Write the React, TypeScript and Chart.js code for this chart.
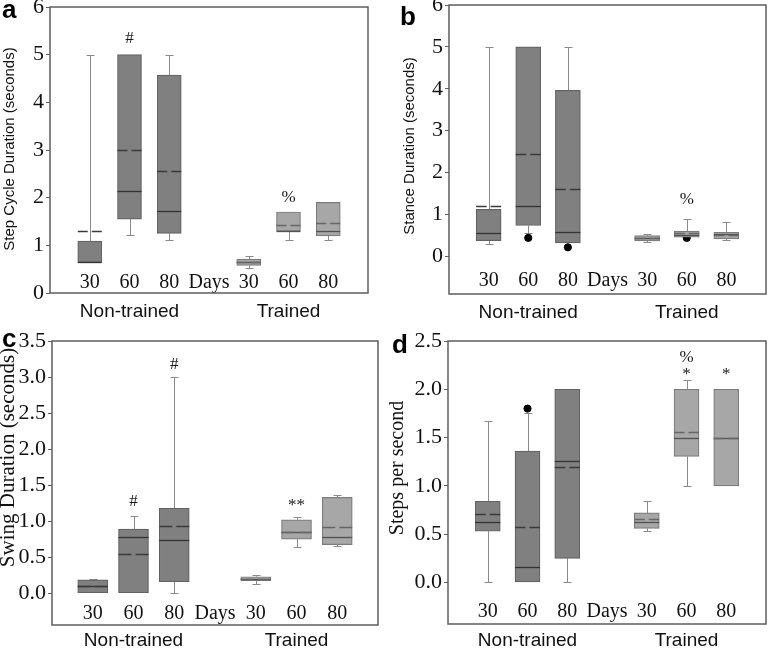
import React, { useEffect, useRef } from 'react';
import { Chart, registerables } from 'chart.js';

Chart.register(...registerables);

// ---------- shared categories ----------
const xLabels = ['30', '60', '80', 'Days', '30', '60', '80'];
const xSlots = [1, 2, 3, 4, 5, 6, 7];
const groupLabels = ['Non-trained', 'Trained'];
const groupSlots = [2, 6];
const boxSlots = [1, 2, 3, 5, 6, 7];
const trained = [false, false, false, true, true, true];

// ---------- panel a: Step Cycle Duration ----------
const aQ1 = [0.64, 1.55, 1.25, 0.58, 1.3, 1.2];
const aQ3 = [1.09, 5.0, 4.57, 0.71, 1.7, 1.9];
const aMedian = [0.66, 2.15, 1.71, 0.65, 1.31, 1.3];
const aMean = [1.3, 3.0, 2.55, 0.64, 1.42, 1.46];
const aLow = [0.64, 1.21, 1.11, 0.52, 1.11, 1.11];
const aHigh = [5.0, 5.0, 5.0, 0.78, 1.7, 1.9];
const aOutX: number[] = [];
const aOutY: number[] = [];
const aNoteText = ['#', '%'];
const aNoteX = [2, 6];
const aNoteY = [5.33, 2.01];
const aTicks = [0, 1, 2, 3, 4, 5, 6];

// ---------- panel b: Stance Duration ----------
const bQ1 = [0.375, 0.735, 0.32, 0.37, 0.455, 0.415];
const bQ3 = [1.12, 5.0, 3.96, 0.495, 0.6, 0.575];
const bMedian = [0.56, 1.2, 0.58, 0.43, 0.5, 0.535];
const bMean = [1.21, 2.45, 1.61, 0.44, 0.56, 0.52];
const bLow = [0.3, 0.56, 0.32, 0.335, 0.455, 0.39];
const bHigh = [5.0, 5.0, 5.0, 0.53, 0.88, 0.82];
const bOutX = [2, 3, 6];
const bOutY = [0.44, 0.215, 0.44];
const bNoteText = ['%'];
const bNoteX = [6];
const bNoteY = [1.36];
const bTicks = [0, 1, 2, 3, 4, 5, 6];

// ---------- panel c: Swing Duration ----------
const cQ1 = [0.0, 0.0, 0.16, 0.175, 0.75, 0.675];
const cQ3 = [0.185, 0.89, 1.18, 0.23, 1.02, 1.33];
const cMedian = [0.095, 0.78, 0.74, 0.2, 0.85, 0.78];
const cMean = [0.1, 0.54, 0.93, 0.2, 0.85, 0.925];
const cLow = [0.0, 0.0, 0.0, 0.125, 0.64, 0.66];
const cHigh = [0.2, 1.07, 3.0, 0.25, 1.055, 1.365];
const cOutX: number[] = [];
const cOutY: number[] = [];
const cNoteText = ['#', '#', '**'];
const cNoteX = [2, 3, 6];
const cNoteY = [1.27, 3.17, 1.22];
const cTicks = [0, 0.5, 1.0, 1.5, 2.0, 2.5, 3.0, 3.5];

// ---------- panel d: Steps per second ----------
const dQ1 = [0.53, 0.0, 0.25, 0.56, 1.305, 1.0];
const dQ3 = [0.84, 1.36, 2.0, 0.72, 2.0, 2.0];
const dMedian = [0.63, 0.155, 1.26, 0.63, 1.5, 1.5];
const dMean = [0.71, 0.57, 1.195, 0.66, 1.56, 1.5];
const dLow = [0.0, 0.0, 0.0, 0.53, 1.0, 1.0];
const dHigh = [1.67, 1.75, 2.0, 0.84, 2.1, 2.0];
const dOutX = [2];
const dOutY = [1.8];
const dNoteText = ['%', '*', '*'];
const dNoteX = [6, 6, 7];
const dNoteY = [2.33, 2.15, 2.15];
const dTicks = [0, 0.5, 1.0, 1.5, 2.0, 2.5];

const SERIF = '"Liberation Serif", "Times New Roman", serif';
const SANS = '"Liberation Sans", Arial, sans-serif';

const panels = [
  {
    letter: 'a', yTitle: 'Step Cycle Duration (seconds)', titleSerif: false,
    yMin: 0, yMax: 6, yTicks: aTicks, dec: 0,
    q1: aQ1, q3: aQ3, median: aMedian, mean: aMean, low: aLow, high: aHigh,
    outX: aOutX, outY: aOutY, noteText: aNoteText, noteX: aNoteX, noteY: aNoteY,
  },
  {
    letter: 'b', yTitle: 'Stance Duration (seconds)', titleSerif: false,
    yMin: -0.9, yMax: 6, yTicks: bTicks, dec: 0,
    q1: bQ1, q3: bQ3, median: bMedian, mean: bMean, low: bLow, high: bHigh,
    outX: bOutX, outY: bOutY, noteText: bNoteText, noteX: bNoteX, noteY: bNoteY,
  },
  {
    letter: 'c', yTitle: 'Swing Duration (seconds)', titleSerif: true,
    yMin: -0.44, yMax: 3.5, yTicks: cTicks, dec: 1,
    q1: cQ1, q3: cQ3, median: cMedian, mean: cMean, low: cLow, high: cHigh,
    outX: cOutX, outY: cOutY, noteText: cNoteText, noteX: cNoteX, noteY: cNoteY,
  },
  {
    letter: 'd', yTitle: 'Steps per second', titleSerif: true,
    yMin: -0.43, yMax: 2.5, yTicks: dTicks, dec: 1,
    q1: dQ1, q3: dQ3, median: dMedian, mean: dMean, low: dLow, high: dHigh,
    outX: dOutX, outY: dOutY, noteText: dNoteText, noteX: dNoteX, noteY: dNoteY,
  },
];

// layout / style per panel (kept apart from the data)
const styles = [
  { left: 0, top: 0, w: 385, h: 324, yW: 50, padT: 7, padR: 17, bottomH: 31, numPad: 0, grpPad: -0.4, boxW: 24,
    titleX: 9.5, titleY: 149, titleSize: 15, letterX: 2, letterY: 18 },
  { left: 385, top: 0, w: 386, h: 324, yW: 64, padT: 5, padR: 1, bottomH: 30, numPad: 3, grpPad: -1, boxW: 25,
    titleX: 25, titleY: 146, titleSize: 15, letterX: 15, letterY: 25 },
  { left: 0, top: 324, w: 385, h: 325, yW: 52, padT: 17, padR: 7, bottomH: 24, numPad: 1, grpPad: -3.4, boxW: 30,
    titleX: 8, titleY: 133.5, titleSize: 21, letterX: 2, letterY: 23 },
  { left: 385, top: 324, w: 386, h: 325, yW: 63, padT: 17, padR: 3, bottomH: 25, numPad: 2, grpPad: -3, boxW: 25,
    titleX: 13, titleY: 144, titleSize: 20, letterX: 7, letterY: 29 },
];

const DARK_FILL = '#808080';
const DARK_EDGE = '#636363';
const LIGHT_FILL = '#a7a7a7';
const LIGHT_EDGE = '#7c7c7c';

const boxExtras = {
  id: 'boxExtras',
  beforeDatasetsDraw(chart: any, _a: any, o: any) {
    const ctx = chart.ctx;
    const xs = chart.scales.x;
    const ys = chart.scales.y;
    ctx.save();
    ctx.strokeStyle = '#8a8a8a';
    ctx.lineWidth = 1;
    o.slots.forEach((s: number, i: number) => {
      const x = Math.round(xs.getPixelForValue(s)) + 0.5;
      const segs = [[o.q3[i], o.high[i]], [o.q1[i], o.low[i]]];
      segs.forEach(([from, to]) => {
        if (Math.abs(to - from) < 1e-9) return;
        const y1 = ys.getPixelForValue(from);
        const y2 = Math.round(ys.getPixelForValue(to)) + 0.5;
        ctx.beginPath();
        ctx.moveTo(x, y1);
        ctx.lineTo(x, y2);
        ctx.stroke();
        ctx.beginPath();
        ctx.moveTo(x - o.capW / 2, y2);
        ctx.lineTo(x + o.capW / 2, y2);
        ctx.stroke();
      });
    });
    ctx.restore();
  },
  afterDatasetsDraw(chart: any, _a: any, o: any) {
    const ctx = chart.ctx;
    const xs = chart.scales.x;
    const ys = chart.scales.y;
    ctx.save();
    o.slots.forEach((s: number, i: number) => {
      const xc = xs.getPixelForValue(s);
      const x0 = xc - o.boxW / 2;
      const x1 = xc + o.boxW / 2;
      const t = o.trained[i];
      // median
      const ym = Math.round(ys.getPixelForValue(o.median[i])) + 0.5;
      ctx.setLineDash([]);
      ctx.lineWidth = 1.3;
      ctx.strokeStyle = t ? '#505050' : '#333333';
      ctx.beginPath();
      ctx.moveTo(x0, ym);
      ctx.lineTo(x1, ym);
      ctx.stroke();
      // mean (dashed)
      const yn = Math.round(ys.getPixelForValue(o.mean[i])) + 0.5;
      const gap = 4;
      ctx.setLineDash([(o.boxW - gap) / 2, gap]);
      ctx.strokeStyle = t ? '#666666' : '#3a3a3a';
      ctx.lineWidth = 1.3;
      ctx.beginPath();
      ctx.moveTo(x0, yn);
      ctx.lineTo(x1, yn);
      ctx.stroke();
    });
    ctx.setLineDash([]);
    // significance marks
    ctx.fillStyle = '#1a1a1a';
    ctx.font = '17px ' + SERIF;
    ctx.textAlign = 'center';
    ctx.textBaseline = 'middle';
    o.noteText.forEach((txt: string, i: number) => {
      ctx.fillText(txt, xs.getPixelForValue(o.noteX[i]), ys.getPixelForValue(o.noteY[i]));
    });
    ctx.restore();
  },
  afterDraw(chart: any, _a: any, o: any) {
    const ctx = chart.ctx;
    const a = chart.chartArea;
    ctx.save();
    ctx.strokeStyle = '#5e5e5e';
    ctx.lineWidth = 1.5;
    ctx.strokeRect(a.left, a.top, a.right - a.left, a.bottom - a.top);
    // panel letter
    ctx.fillStyle = '#000';
    ctx.font = 'bold 26px ' + SANS;
    ctx.textAlign = 'left';
    ctx.textBaseline = 'alphabetic';
    ctx.fillText(o.letter, o.letterX, o.letterY);
    // y title
    ctx.translate(o.titleX, o.titleY);
    ctx.rotate(-Math.PI / 2);
    ctx.font = o.titleSize + 'px ' + (o.titleSerif ? SERIF : SANS);
    ctx.fillStyle = '#111';
    ctx.textAlign = 'center';
    ctx.textBaseline = 'middle';
    ctx.fillText(o.yTitle, 0, 0);
    ctx.restore();
  },
};

function Panel({ p, st }: { p: any; st: any }) {
  const ref = useRef<HTMLCanvasElement | null>(null);
  useEffect(() => {
    if (!ref.current) return;
    const chart = new Chart(ref.current, {
      type: 'bar',
      data: {
        datasets: [
          {
            type: 'bar',
            data: boxSlots.map((s, i) => ({ x: s, y: [p.q1[i], p.q3[i]] })) as any,
            backgroundColor: trained.map((t) => (t ? LIGHT_FILL : DARK_FILL)),
            borderColor: trained.map((t) => (t ? LIGHT_EDGE : DARK_EDGE)),
            borderWidth: 1.2,
            borderSkipped: false,
            barThickness: st.boxW,
            xAxisID: 'x',
            yAxisID: 'y',
          } as any,
          {
            type: 'scatter',
            data: p.outX.map((x: number, i: number) => ({ x, y: p.outY[i] })),
            pointRadius: 3.6,
            pointBackgroundColor: '#000',
            pointBorderColor: '#000',
            xAxisID: 'x',
            yAxisID: 'y',
          } as any,
        ],
      },
      options: {
        responsive: false,
        animation: false,
        devicePixelRatio: 1,
        layout: { padding: { top: st.padT, right: st.padR, left: 0, bottom: 0 } },
        plugins: {
          legend: { display: false },
          tooltip: { enabled: false },
          boxExtras: {
            slots: boxSlots, trained, q1: p.q1, q3: p.q3, median: p.median, mean: p.mean,
            low: p.low, high: p.high, boxW: st.boxW, capW: 8,
            noteText: p.noteText, noteX: p.noteX, noteY: p.noteY,
            letter: p.letter, letterX: st.letterX, letterY: st.letterY,
            yTitle: p.yTitle, titleSerif: p.titleSerif, titleX: st.titleX, titleY: st.titleY, titleSize: st.titleSize,
          },
        } as any,
        scales: {
          x: {
            type: 'linear', min: 0, max: 8, position: 'bottom', weight: 0, offset: false,
            grid: { display: false }, border: { display: false },
            afterBuildTicks: (s: any) => { s.ticks = xSlots.map((v) => ({ value: v })); },
            ticks: {
              autoSkip: false, maxRotation: 0, minRotation: 0, padding: st.numPad, mirror: true,
              font: { family: SERIF, size: 20, lineHeight: 1 }, color: '#111',
              callback: (_v: any, i: number) => xLabels[i],
            },
            afterFit: (s: any) => { s.height = 0; s.paddingLeft = 0; s.paddingRight = 0; },
          },
          x2: {
            type: 'linear', min: 0, max: 8, position: 'bottom', weight: 1, offset: false,
            grid: { display: false }, border: { display: false },
            afterBuildTicks: (s: any) => { s.ticks = groupSlots.map((v) => ({ value: v })); },
            ticks: {
              autoSkip: false, maxRotation: 0, minRotation: 0, padding: st.grpPad,
              font: { family: SANS, size: 19, lineHeight: 1.2 }, color: '#111',
              callback: (_v: any, i: number) => groupLabels[i],
            },
            afterFit: (s: any) => { s.height = st.bottomH; s.paddingLeft = 0; s.paddingRight = 0; },
          },
          y: {
            type: 'linear', min: p.yMin, max: p.yMax, position: 'left',
            grid: { display: true, drawOnChartArea: false, drawTicks: true, tickLength: 4, color: '#5e5e5e' },
            border: { display: false },
            afterBuildTicks: (s: any) => { s.ticks = p.yTicks.map((v: number) => ({ value: v })); },
            ticks: {
              autoSkip: false, padding: 2,
              font: { family: SERIF, size: 22, lineHeight: 1 }, color: '#111',
              callback: (v: any) => Number(v).toFixed(p.dec),
            },
            afterFit: (s: any) => { s.width = st.yW; s.paddingTop = 0; s.paddingBottom = 0; },
          },
        } as any,
      },
      plugins: [boxExtras as any],
    });
    return () => chart.destroy();
  }, []);
  return (
    <div style={{ position: 'absolute', left: st.left, top: st.top, width: st.w, height: st.h }}>
      <canvas ref={ref} width={st.w} height={st.h} style={{ width: st.w, height: st.h, display: 'block' }} />
    </div>
  );
}

export default function App() {
  return (
    <div style={{ position: 'absolute', left: 0, top: 0, width: 771, height: 649, background: '#fff', overflow: 'hidden' }}>
      {panels.map((p, i) => (
        <Panel key={p.letter} p={p} st={styles[i]} />
      ))}
    </div>
  );
}
